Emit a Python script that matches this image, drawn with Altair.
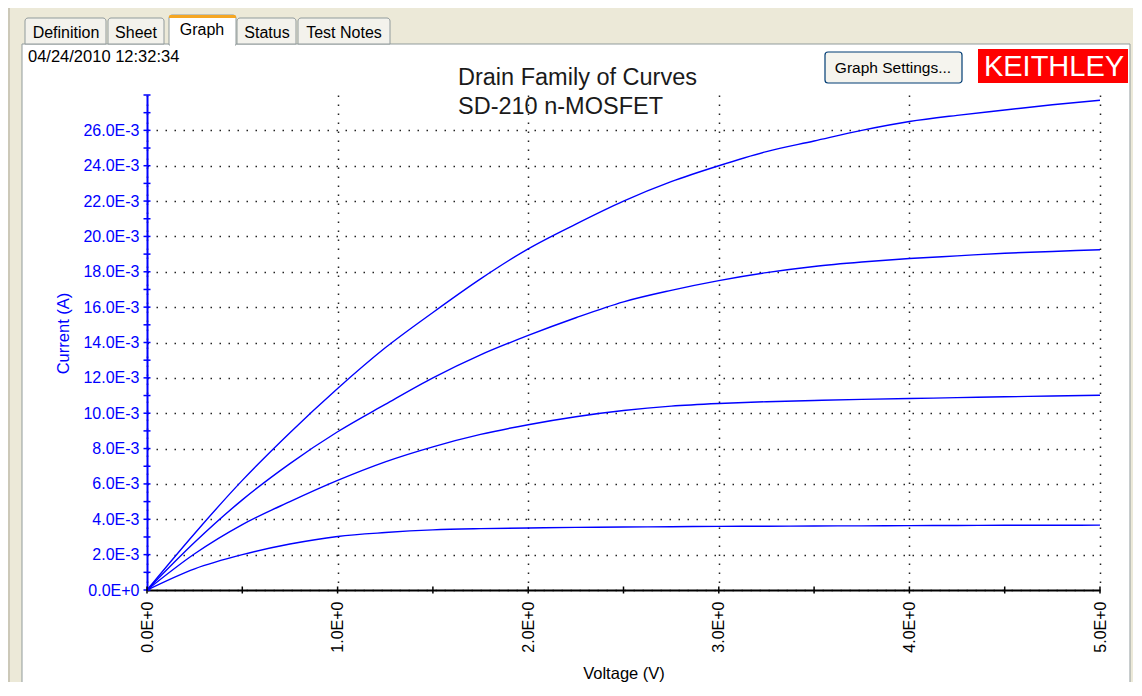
import altair as alt
import pandas as pd

# ---------------- data ----------------
voltage = [0.0, 0.25, 0.5, 0.75, 1.0, 1.25, 1.5, 1.75, 2.0, 2.25, 2.5,
           2.75, 3.0, 3.25, 3.5, 3.75, 4.0, 4.25, 4.5, 4.75, 5.0]
# drain current in mA for each curve
curve_1 = [0.0, 3.2, 6.2, 8.9, 11.4, 13.7, 15.7, 17.6, 19.3, 20.7, 22.0,
           23.1, 24.0, 24.8, 25.4, 26.0, 26.5, 26.85, 27.15, 27.45, 27.7]
curve_2 = [0.0, 2.7, 5.1, 7.15, 8.95, 10.5, 12.0, 13.3, 14.4, 15.4, 16.3,
           16.95, 17.5, 17.95, 18.3, 18.55, 18.75, 18.9, 19.05, 19.15, 19.25]
curve_3 = [0.0, 2.05, 3.7, 5.0, 6.2, 7.25, 8.1, 8.8, 9.35, 9.8, 10.15,
           10.4, 10.55, 10.65, 10.72, 10.78, 10.83, 10.88, 10.93, 10.97, 11.02]
curve_4 = [0.0, 1.2, 2.0, 2.6, 3.03, 3.25, 3.4, 3.47, 3.51, 3.54, 3.56,
           3.58, 3.6, 3.61, 3.62, 3.63, 3.64, 3.65, 3.66, 3.66, 3.67]

x_major = [0.0, 1.0, 2.0, 3.0, 4.0, 5.0]
x_minor = [0.0, 0.5, 1.0, 1.5, 2.0, 2.5, 3.0, 3.5, 4.0, 4.5, 5.0]
y_major = [0.0, 0.002, 0.004, 0.006, 0.008, 0.010, 0.012, 0.014,
           0.016, 0.018, 0.020, 0.022, 0.024, 0.026]
y_minor = [0.000, 0.001, 0.002, 0.003, 0.004, 0.005, 0.006, 0.007, 0.008,
           0.009, 0.010, 0.011, 0.012, 0.013, 0.014, 0.015, 0.016, 0.017,
           0.018, 0.019, 0.020, 0.021, 0.022, 0.023, 0.024, 0.025, 0.026,
           0.027, 0.028]

tabs = ["Definition", "Sheet", "Graph", "Status", "Test Notes"]
date_text = "04/24/2010 12:32:34"
title_1 = "Drain Family of Curves"
title_2 = "SD-210 n-MOSFET"

rows = []
for name, vals in [("Curve 1", curve_1), ("Curve 2", curve_2),
                   ("Curve 3", curve_3), ("Curve 4", curve_4)]:
    for v, i in zip(voltage, vals):
        rows.append({"curve": name, "V": v, "I": i / 1000.0})
df = pd.DataFrame(rows)

# ---------------- layout ----------------
W, H = 953, 495          # plot area
OX, OY = 147, 95         # page position of plot origin
FONT = "Liberation Sans"
BLUE = "#0000FF"
BEIGE = "#ECE9D8"
one = pd.DataFrame({"k": [0]})


def rect(x1, y1, x2, y2, **kw):
    return alt.Chart(one).mark_rect(**kw).encode(
        x=alt.value(x1 - OX), x2=alt.value(x2 - OX),
        y=alt.value(y1 - OY), y2=alt.value(y2 - OY))


def text(s, x, y, **kw):
    return alt.Chart(one).mark_text(text=s, font=FONT, baseline="middle", **kw).encode(
        x=alt.value(x - OX), y=alt.value(y - OY))


x_scale = alt.Scale(domain=[0, 5], nice=False, zero=False)
y_scale = alt.Scale(domain=[0, 0.028], nice=False, zero=False)

x_axis = alt.Axis(
    values=x_major, labelExpr="format(datum.value, '.1f') + 'E+0'",
    labelAngle=270, labelColor="black", labelFont=FONT, labelFontSize=16,
    labelPadding=11, labelFlush=False, labelOverlap=False,
    ticks=False, tickSize=0,
    domainColor="black", domainWidth=2,
    grid=True, gridColor="#222222", gridDash=[1.5, 7.5], gridWidth=1.5,
    title="Voltage (V)", titleFont=FONT, titleFontSize=16.5,
    titleFontWeight="normal", titleColor="black",
    titleBaseline="alphabetic", titleY=88)

y_axis = alt.Axis(
    values=y_major,
    labelExpr="datum.value == 0 ? '0.0E+0' : format(datum.value * 1000, '.1f') + 'E-3'",
    labelColor=BLUE, labelFont=FONT, labelFontSize=16, labelPadding=8,
    labelFlush=False, labelOverlap=False,
    ticks=False, tickSize=0,
    domainColor=BLUE, domainWidth=2,
    grid=True, gridColor="#222222", gridDash=[1.5, 7.5], gridWidth=1.5,
    title="Current (A)", titleFont=FONT, titleFontSize=16.5,
    titleFontWeight="normal", titleColor=BLUE,
    titleAngle=270, titleAlign="center", titleBaseline="middle",
    titleX=-84, titleY=238)

# ---------------- window chrome (kept outside the plot area) ----------------
chrome = [
    rect(0, 0, 1142, 44, fill=BEIGE),
    rect(0, 44, 22, 720, fill=BEIGE),
    rect(1130, 44, 1142, 720, fill=BEIGE),
    rect(9, 4, 1137, 720, fill="transparent", stroke="#ACA899", strokeWidth=1),
    rect(22, 44, 1130, 720, fill="transparent", stroke="#919B9C", strokeWidth=1),
    rect(25, 18, 106, 44, fill="#F3F2EC", stroke="#919B9C", strokeWidth=1,
         cornerRadiusTopLeft=3, cornerRadiusTopRight=3),
    rect(108, 18, 164, 44, fill="#F3F2EC", stroke="#919B9C", strokeWidth=1,
         cornerRadiusTopLeft=3, cornerRadiusTopRight=3),
    rect(237, 18, 296, 44, fill="#F3F2EC", stroke="#919B9C", strokeWidth=1,
         cornerRadiusTopLeft=3, cornerRadiusTopRight=3),
    rect(298, 18, 390, 44, fill="#F3F2EC", stroke="#919B9C", strokeWidth=1,
         cornerRadiusTopLeft=3, cornerRadiusTopRight=3),
    rect(169, 15, 236, 45, fill="white", stroke="#919B9C", strokeWidth=1,
         cornerRadiusTopLeft=3, cornerRadiusTopRight=3),
    rect(170, 44, 235, 46, fill="white"),
    rect(169, 15, 236, 18, fill="#F5A623", cornerRadiusTopLeft=3,
         cornerRadiusTopRight=3),
    text(tabs[0], 66, 33, fontSize=16, color="black"),
    text(tabs[1], 136, 33, fontSize=16, color="black"),
    text(tabs[2], 202, 30, fontSize=16, color="black"),
    text(tabs[3], 267, 33, fontSize=16, color="black"),
    text(tabs[4], 344, 33, fontSize=16, color="black"),
    text(date_text, 28, 57, fontSize=16.5, color="black", align="left"),
    text(title_1, 458, 78, fontSize=23.5, color="#1a1a1a", align="left"),
    text(title_2, 458, 107, fontSize=23.5, color="#1a1a1a", align="left"),
    rect(825, 52, 962, 83, fill="#F5F4EE", stroke="#003C74", strokeWidth=1.2,
         cornerRadius=3),
    text("Graph Settings...", 893, 68, fontSize=15.5, color="black"),
    rect(978, 49, 1128, 83, fill="#FF0000"),
    text("KEITHLEY", 1054, 67, fontSize=29, color="white"),
]

# ---------------- plot ----------------
lines = alt.Chart(df).mark_line(color=BLUE, strokeWidth=1.4,
                                interpolate="monotone").encode(
    x=alt.X("V:Q", scale=x_scale, axis=x_axis),
    y=alt.Y("I:Q", scale=y_scale, axis=y_axis),
    detail="curve:N",
    order="V:Q",
)

y_ticks = alt.Chart(pd.DataFrame({"I": y_minor})).mark_rule(
    color=BLUE, strokeWidth=1.5).encode(
    y=alt.Y("I:Q", scale=y_scale, axis=y_axis),
    x=alt.value(-3.5), x2=alt.value(3.5))

x_ticks = alt.Chart(pd.DataFrame({"V": x_minor})).mark_rule(
    color="black", strokeWidth=1.5).encode(
    x=alt.X("V:Q", scale=x_scale, axis=x_axis),
    y=alt.value(H - 3.5), y2=alt.value(H + 3.5))

chart = alt.layer(lines, y_ticks, x_ticks, *chrome).properties(
    width=W, height=H,
    autosize=alt.AutoSizeParams(type="none"),
    padding={"left": OX - 8, "top": OY - 8, "right": 33, "bottom": 92},
    background="white",
).configure_view(strokeWidth=0)

chart.save("out.html", embed_options={"renderer": "svg", "actions": False})
